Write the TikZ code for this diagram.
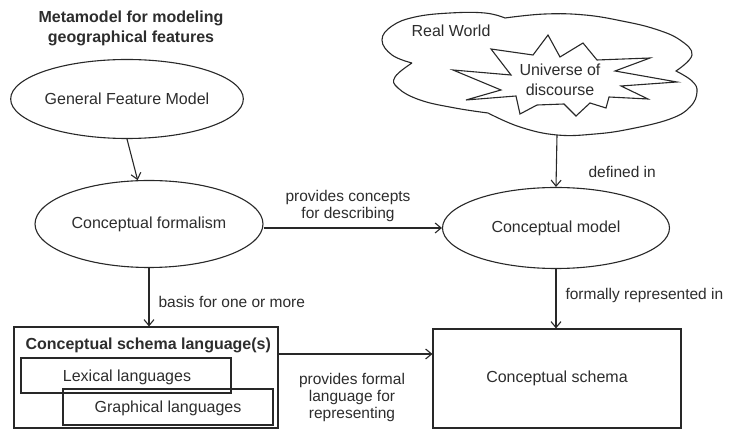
\documentclass[tikz,border=0pt]{standalone}
\usepackage{fontspec}
\setmainfont{Liberation Sans}
\usetikzlibrary{shapes.geometric,arrows.meta,calc}
\definecolor{ink}{RGB}{40,40,40}
\definecolor{txt}{RGB}{45,45,45}
\begin{document}
\begin{tikzpicture}[x=1pt,y=-1pt,
  line width=1.1pt, draw=ink, text=txt,
  every node/.style={font=\fontsize{16}{18}\selectfont},
  ell/.style={ellipse, draw=ink, inner sep=0pt},
  boxn/.style={rectangle, draw=ink, inner sep=0pt},
  lbl/.style={font=\fontsize{15.5}{17}\selectfont, inner sep=0pt, align=center},
  arr/.style={draw=ink, -{Straight Barb[length=6pt,width=10pt,line width=1.1pt]}}
]
\useasboundingbox (0,0) rectangle (732,430);
\fill[white] (0,0) rectangle (732,430);

% title
\node[font=\fontsize{16}{20}\selectfont\bfseries, align=center, inner sep=0pt] (title) at (131,28)
  {Metamodel for modeling\\geographical features};

% ellipses
\node[ell, minimum width=227pt, minimum height=79pt] (gfm) at (127,99) {General Feature Model};
\node[ell, minimum width=228pt, minimum height=87pt] (cf) at (149,224) {Conceptual formalism};
\node[ell, minimum width=227pt, minimum height=81pt] (cm) at (556,228) {Conceptual model};

% cloud
\draw[ink]
  plot[smooth, tension=0.7] coordinates {(412,63) (392,55) (382,40) (392,26) (415,17) (450,13) (485,13) (505,18)}
  -- plot[smooth, tension=0.7] coordinates {(505,18) (545,14) (585,15) (622,21) (655,29) (680,40) (692,55) (676,71)}
  -- plot[smooth, tension=0.7] coordinates {(676,71) (692,81) (697,92) (690,107) (670,119) (630,129) (595,134) (557,135) (520,127) (488,113)}
  -- plot[smooth, tension=0.7] coordinates {(488,113) (455,108) (420,100) (398,88) (395,77) (412,63)};
\coordinate (cloudb) at (557,135);
\node[inner sep=0pt] (rw) at (451,31) {Real World};

% starburst
\draw[ink, line join=miter] (491,49) -- (533,55) -- (548,35) -- (560,57) -- (583,43) -- (597,60)
  -- (650,58) -- (615,71) -- (677,82) -- (621,86) -- (648,99) -- (609,97) -- (606,108)
  -- (590,103) -- (576,116) -- (564,104) -- (537,105) -- (520,114) -- (516,96)
  -- (466,100) -- (501,90) -- (453,70) -- (511,75) -- cycle;
\node[align=center, inner sep=0pt, font=\fontsize{16}{20}\selectfont] (uod) at (560,80) {Universe of\\discourse};

% boxes
\node[boxn, minimum width=264pt, minimum height=101pt] (csl) at (146,377.5) {};
\node[font=\fontsize{16}{18}\selectfont\bfseries, anchor=west, inner sep=0pt] (cslt) at (25,345) {Conceptual schema language(s)};
\node[boxn, minimum width=210pt, minimum height=35pt] (lex) at (126,375.5) {};
\node[inner sep=0pt] (lext) at (127,377) {Lexical languages};
\node[boxn, minimum width=210pt, minimum height=36pt] (gra) at (168,407) {};
\node[inner sep=0pt] (grat) at (168,408) {Graphical languages};
\node[boxn, minimum width=248pt, minimum height=99pt] (cs) at (557,378.5) {Conceptual schema};

% connectors
\draw[arr] (gfm.south) -- (cf);
\draw[arr] (cf.east |- cm.west) -- (cm.west);
\draw[arr] (cloudb) -- (cm.north);
\draw[arr] (cf.south) -- (cf.south |- csl.north);
\draw[arr] (cm.south) -- (cm.south |- cs.north);
\path ([yshift=23.5pt]csl.east) coordinate (p1);
\draw[arr] (p1) -- (p1 -| cs.west);

% labels
\node[lbl] (l1) at (348,206) {provides concepts\\for describing};
\node[lbl, anchor=west] (l2) at (588,172) {defined in};
\node[lbl, anchor=west] (l3) at (158,302) {basis for one or more};
\node[lbl, anchor=west] (l4) at (565,295) {formally represented in};
\node[lbl] (l5) at (352,397) {provides formal\\language for\\representing};
\end{tikzpicture}
\end{document}
